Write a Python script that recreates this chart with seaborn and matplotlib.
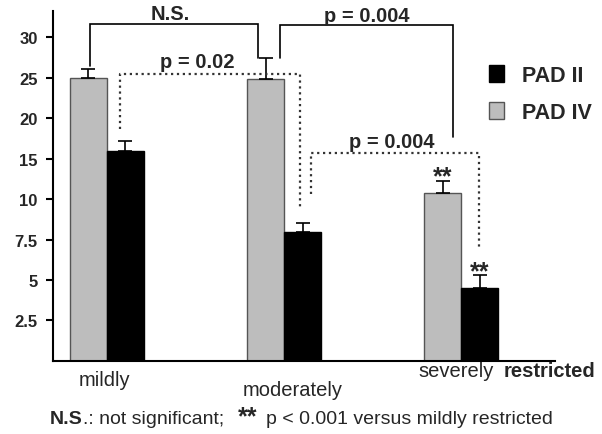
import numpy as np
import pandas as pd
import seaborn as sns
import matplotlib.pyplot as plt
from matplotlib.patches import Patch

# ---- data ----
groups = ["mildly", "moderately", "severely"]
series = ["PAD IV", "PAD II"]
pad4_mean = [25.0, 24.8, 10.8]
pad4_err = [1.1, 2.6, 1.5]
pad2_mean = [16.0, 8.0, 4.5]
pad2_err = [1.2, 0.5, 0.8]

ytick_vals = [2.5, 5, 7.5, 10, 15, 20, 25, 30]
ytick_labels = ["2.5", "5", "7.5", "10", "15", "20", "25", "30"]
# the axis is evenly spaced by tick, not by value
scale_vals = [0, 2.5, 5, 7.5, 10, 15, 20, 25, 30, 35]

# significance brackets: label, (x left, x right), y of bar, (y left end, y right end), style, text pos
bracket_labels = ["N.S.", "p = 0.02", "p = 0.004", "p = 0.004"]
bracket_x = [(-0.096, 0.853), (0.073, 1.09), (0.977, 1.955), (1.153, 2.10)]
bracket_top = [31.6, 25.5, 31.5, 15.7]
bracket_ends = [(26.5, 27.4), (18.7, 9.3), (27.4, 17.7), (10.7, 7.05)]
bracket_styles = ["-", ":", "-", ":"]
bracket_text = [(0.356, 33.0), (0.51, 27.0), (1.47, 32.7), (1.61, 17.1)]

colors = {"PAD IV": "#bdbdbd", "PAD II": "#000000"}
edges = {"PAD IV": "#555555", "PAD II": "#000000"}

df = pd.DataFrame({
    "group": groups * 2,
    "series": ["PAD IV"] * 3 + ["PAD II"] * 3,
    "value": pad4_mean + pad2_mean,
    "err": pad4_err + pad2_err,
})


def fwd(v):
    return np.interp(v, scale_vals, np.arange(len(scale_vals)))


def inv(p):
    return np.interp(p, np.arange(len(scale_vals)), scale_vals)


sns.set_style("white")
plt.rcParams["font.family"] = ["Liberation Sans", "DejaVu Sans"]

fig = plt.figure(figsize=(6.02, 4.35), dpi=100)
ax = fig.add_axes([0.088, 0.168, 0.834, 0.805])

sns.barplot(data=df, x="group", y="value", hue="series", order=groups,
            hue_order=series, palette=colors, width=0.418, errorbar=None,
            legend=False, ax=ax)

ax.set_yscale("function", functions=(fwd, inv))
ax.set_ylim(0, inv(8.66))
ax.set_xlim(-0.305, 2.531)

# outline + one-sided error bars drawn from the bars themselves
for name, cont in zip(series, ax.containers):
    errs = df.loc[df["series"] == name, "err"].to_numpy()
    xs, hs = [], []
    for bar in cont:
        bar.set_edgecolor(edges[name])
        bar.set_linewidth(1.0)
        xs.append(bar.get_x() + bar.get_width() / 2)
        hs.append(bar.get_height())
    ax.errorbar(xs, hs, yerr=[np.zeros(len(errs)), errs], fmt="none",
                ecolor="black", elinewidth=1.2, capsize=5, capthick=1.2)
    # "**" over the severely restricted bars
    ax.annotate("**", (xs[2], hs[2] + errs[2]), xytext=(0, -2), textcoords="offset points",
                ha="center", va="baseline", fontsize=18, fontweight="bold")

# significance brackets
for lab, (x0, x1), yt, (e0, e1), ls, (tx, ty) in zip(
        bracket_labels, bracket_x, bracket_top, bracket_ends, bracket_styles, bracket_text):
    lw = 1.2 if ls == "-" else 1.6
    col = "black" if ls == "-" else "#333333"
    ax.plot([x0, x0, x1, x1], [e0, yt, yt, e1], ls=ls, color=col, lw=lw,
            clip_on=False, solid_joinstyle="miter")
    ax.text(tx, ty, lab, ha="center", va="center", fontsize=14.5, fontweight="bold",
            clip_on=False)

# axes styling
sns.despine(ax=ax)
for side in ["left", "bottom"]:
    ax.spines[side].set_color("black")
    ax.spines[side].set_linewidth(1.5)
ax.set_yticks(ytick_vals)
ax.set_yticklabels(ytick_labels, fontsize=12, fontweight="bold")
ax.yaxis.set_minor_locator(plt.NullLocator())
ax.tick_params(axis="y", direction="out", length=5, width=1.5, color="black", pad=6, left=True)
ax.set_xticks([])
ax.set_xlabel("")
ax.set_ylabel("")

# staggered category labels
label_drop = [13.7, 20.5, 7.2]
label_dx = [-2.0, 6.0, -3.6]
for i, (g, dy, dx) in enumerate(zip(groups, label_drop, label_dx)):
    ax.annotate(g, (i, 0), xycoords=("data", "axes fraction"), xytext=(dx, -dy),
                textcoords="offset points", ha="center", va="center", fontsize=14.5)
ax.annotate("restricted", (2, 0), xycoords=("data", "axes fraction"), xytext=(31, -7.2),
            textcoords="offset points", ha="left", va="center", fontsize=14.5,
            fontweight="bold", annotation_clip=False)

# legend
handles = [Patch(facecolor=colors[s], edgecolor=edges[s], linewidth=1.0) for s in series[::-1]]
ax.legend(handles, series[::-1], loc="upper left", bbox_to_anchor=(0.83, 0.9),
          frameon=False, handlelength=0.7, handleheight=0.85, handletextpad=0.85,
          labelspacing=0.75, prop={"weight": "bold", "size": 15.5})

# footnote, pieces chained left to right
yb = 11 / 435
pieces = [("N.S", 14, "bold", 0), (".: not significant;", 14, "normal", 14),
          ("**", 18, "bold", 9), ("p < 0.001 versus mildly restricted", 14, "normal", 0)]
renderer = fig.canvas.get_renderer()
x_px = 50
for txt, size, weight, gap in pieces:
    t = fig.text(x_px / 602, yb, txt, fontsize=size, fontweight=weight, va="baseline")
    x_px = t.get_window_extent(renderer).x1 + gap

fig.savefig("out.png", dpi=100)
